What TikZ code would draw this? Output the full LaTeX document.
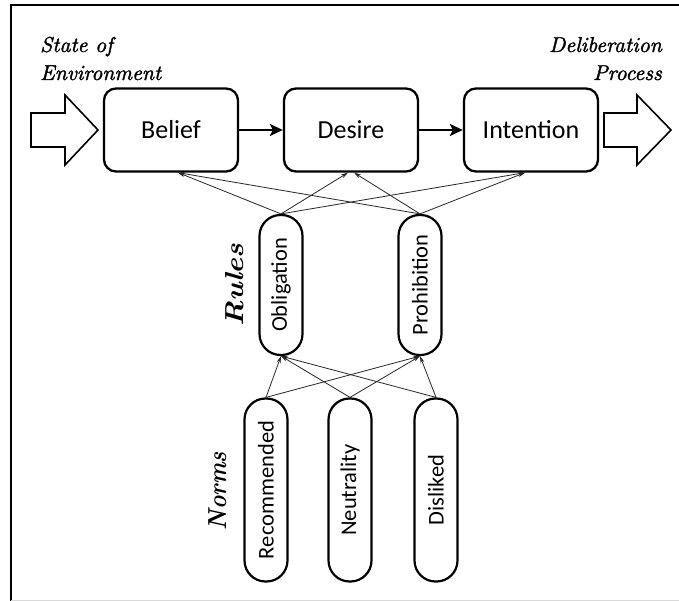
\documentclass[tikz,border=0pt]{standalone}
\usepackage{fontspec}
\usepackage{graphicx}
\newfontfamily\carl{Carlito}
\newfontfamily\labfont{lmroman10-italic}[Extension=.otf, FakeBold=1.6]
\newfontfamily\grpfont{lmroman10-bolditalic}[Extension=.otf]
\usetikzlibrary{arrows.meta}
\begin{document}
\begin{tikzpicture}[x=1pt,y=1pt,
  bdibox/.style={draw, line width=2.3pt, rounded corners=12pt, minimum width=134pt, minimum height=83pt, inner sep=0pt, font=\carl\fontsize{26}{30}\selectfont},
  capsule/.style={draw, line width=2.2pt, rounded corners=21pt, rotate=90, minimum height=43pt, inner sep=0pt, font=\carl\fontsize{22.5}{26}\selectfont},
  flowarrow/.style={line width=2.4pt, -{Stealth[length=13pt,width=12pt,inset=3pt]}},
  thin/.style={line width=0.8pt, draw=black!85, -{Stealth[length=7pt,width=4pt]}},
  bigarrow/.style={draw, line width=1.6pt, fill=white, line join=miter},
  lbl/.style={font=\labfont\fontsize{21.5}{28}\selectfont, inner sep=0pt},
  grp/.style={font=\grpfont\fontsize{26}{30}\selectfont, rotate=90, inner sep=0pt}]
\useasboundingbox (0,0) rectangle (679,601);
% frame
\draw[line width=2pt] (11,0) -- (11,596) -- (679,596);
\draw[black!15, line width=1pt] (11,0.5) -- (679,0.5);

% labels
\node[lbl, anchor=base west] (soe1) at (40,549) {State of};
\node[lbl, anchor=base west] (soe2) at (40,521) {Environment};
\node[lbl, anchor=base east] (dp1) at (662,549) {Deliberation};
\node[lbl, anchor=base east] (dp2) at (662,521) {Process};

% BDI boxes
\node[bdibox] (belief) at (171,471) {Belief};
\node[bdibox] (desire) at (351,471) {Desire};
\node[bdibox] (intention) at (531,471) {Intention};
\draw[flowarrow] (belief) -- (desire);
\draw[flowarrow] (desire) -- (intention);

% big arrows
\draw[bigarrow] (31,488) -- (65,488) -- (65,506) -- (98,471) -- (65,436) -- (65,454) -- (31,454) -- cycle;
\draw[bigarrow] (604,488) -- (637,488) -- (637,506) -- (671,471) -- (637,436) -- (637,454) -- (604,454) -- cycle;

% rules
\node[capsule, minimum width=140pt] (obl) at (281,316) {Obligation};
\node[capsule, minimum width=140pt] (pro) at (420,316) {Prohibition};
\node[grp, anchor=base] (rules) at (243,316) {\scalebox{1.15}[1]{Rules}};

% norms
\node[capsule, minimum width=183pt] (rec) at (266,111) {Recommended};
\node[capsule, minimum width=183pt] (neu) at (350,111) {Neutrality};
\node[capsule, minimum width=183pt] (dis) at (436,111) {Disliked};
\node[grp, anchor=base] (norms) at (226,110) {\scalebox{0.88}[1]{Norms}};

% rules -> BDI
\draw[thin] (obl.east) -- ([xshift=7pt]belief.south);
\draw[thin] (obl.east) -- ([xshift=-3pt]desire.south);
\draw[thin] (obl.east) -- ([xshift=-6pt]intention.south);
\draw[thin] (pro.east) -- ([xshift=7pt]belief.south);
\draw[thin] (pro.east) -- ([xshift=3pt]desire.south);
\draw[thin] (pro.east) -- ([xshift=-6pt]intention.south);

% norms -> rules
\draw[thin] (rec.east) -- (obl.west);
\draw[thin] (rec.east) -- (pro.west);
\draw[thin] (neu.east) -- (obl.west);
\draw[thin] (neu.east) -- (pro.west);
\draw[thin] (dis.east) -- (obl.west);
\draw[thin] (dis.east) -- (pro.west);
\end{tikzpicture}
\end{document}
